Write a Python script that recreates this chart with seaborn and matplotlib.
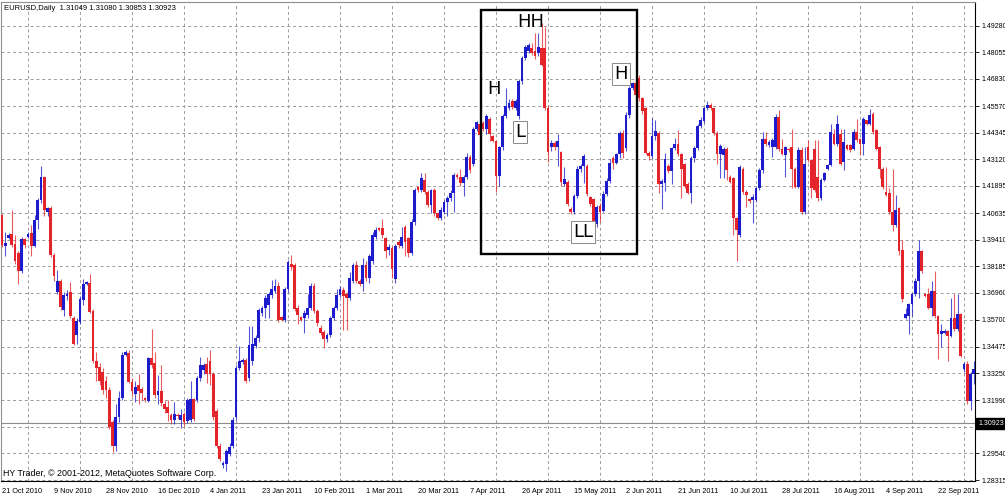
import numpy as np
import pandas as pd
import matplotlib
matplotlib.use("Agg")
import matplotlib.pyplot as plt
import matplotlib.transforms as mtransforms
from matplotlib.patches import Rectangle
from matplotlib import font_manager
import seaborn as sns

# EURUSD daily bars (open / high / low / close)
opens = [
    1.4055, 1.3910, 1.3950, 1.3965, 1.3920, 1.3880, 1.3795, 1.3945, 1.3955, 1.3970,
    1.3910, 1.4030, 1.4125, 1.4230, 1.4070, 1.4085, 1.3870, 1.3700, 1.3750, 1.3615,
    1.3680, 1.3700, 1.3580, 1.3500, 1.3560, 1.3660, 1.3735, 1.3740, 1.3610, 1.3380,
    1.3355, 1.3330, 1.3290, 1.3245, 1.3100, 1.2990, 1.3120, 1.3210, 1.3410, 1.3417,
    1.3285, 1.3230, 1.3270, 1.3250, 1.3210, 1.3195, 1.3395, 1.3370, 1.3225, 1.3240,
    1.3180, 1.3170, 1.3130, 1.3110, 1.3130, 1.3110, 1.3135, 1.3105, 1.3110, 1.3205,
    1.3200, 1.3300, 1.3340, 1.3365, 1.3380, 1.3320, 1.3150, 1.2990, 1.2900, 1.2905,
    1.2950, 1.2990, 1.3120, 1.3350, 1.3375, 1.3385, 1.3300, 1.3380, 1.3450, 1.3485,
    1.3600, 1.3625, 1.3640, 1.3685, 1.3705, 1.3725, 1.3585, 1.3570, 1.3715, 1.3830,
    1.3825, 1.3625, 1.3585, 1.3580, 1.3595, 1.3625, 1.3725, 1.3610, 1.3535, 1.3515,
    1.3480, 1.3500, 1.3580, 1.3625, 1.3685, 1.3710, 1.3690, 1.3670, 1.3750, 1.3825,
    1.3750, 1.3735, 1.3825, 1.3764, 1.3841, 1.3955, 1.3994, 1.3994, 1.3948, 1.3895,
    1.3902, 1.3757, 1.3932, 1.3910, 1.4001, 1.3948, 1.3879, 1.4024, 1.4185, 1.4170,
    1.4216, 1.4162, 1.4101, 1.4170, 1.4063, 1.4040, 1.4070, 1.4116, 1.4131, 1.4154,
    1.4238, 1.4231, 1.4200, 1.4231, 1.4323, 1.4292, 1.4453, 1.4476, 1.4480, 1.4450,
    1.4496, 1.4419, 1.4396, 1.4236, 1.4366, 1.4511, 1.4549, 1.4580, 1.4549, 1.4511,
    1.4672, 1.4779, 1.4809, 1.4825, 1.4809, 1.4802, 1.4825, 1.4825, 1.4549, 1.4366,
    1.4389, 1.4366, 1.4343, 1.4197, 1.4205, 1.4083, 1.4067, 1.4144, 1.4266, 1.4281,
    1.4281, 1.4136, 1.4128, 1.4014, 1.4097, 1.4074, 1.4151, 1.4212, 1.4319, 1.4296,
    1.4334, 1.4434, 1.4365, 1.4518, 1.4640, 1.4663, 1.4686, 1.4594, 1.4548, 1.4342,
    1.4327, 1.4418, 1.4434, 1.4196, 1.4204, 1.4281, 1.4258, 1.4365, 1.4380, 1.4334,
    1.4288, 1.4196, 1.4158, 1.4319, 1.4365, 1.4464, 1.4487, 1.4548, 1.4564, 1.4548,
    1.4434, 1.4334, 1.4331, 1.4361, 1.4231, 1.4223, 1.4040, 1.3963, 1.4269, 1.4162,
    1.4128, 1.4124, 1.4124, 1.4178, 1.4262, 1.4407, 1.4376, 1.4369, 1.4369, 1.4506,
    1.4361, 1.4331, 1.4361, 1.4369, 1.4269, 1.4185, 1.4353, 1.4070, 1.4369, 1.4308,
    1.4361, 1.4231, 1.4132, 1.4216, 1.4269, 1.4285, 1.4430, 1.4384, 1.4430, 1.4300,
    1.4376, 1.4376, 1.4361, 1.4438, 1.4407, 1.4384, 1.4491, 1.4476, 1.4522, 1.4445,
    1.4369, 1.4269, 1.4162, 1.4155, 1.4070, 1.4009, 1.4086, 1.3894, 1.3581, 1.3588,
    1.3642, 1.3688, 1.3749, 1.3887, 1.3688, 1.3688, 1.3627, 1.3706, 1.3588, 1.3504,
    1.3512, 1.3520, 1.3497, 1.3581, 1.3527, 1.3596, 1.3344, 1.3367, 1.3198, 1.3321,
]
highs = [
    1.4060, 1.3975, 1.3970, 1.4078, 1.3960, 1.3890, 1.3955, 1.3950, 1.3975, 1.4010,
    1.4055, 1.4135, 1.4280, 1.4235, 1.4090, 1.4095, 1.3880, 1.3800, 1.3760, 1.3700,
    1.3710, 1.3745, 1.3590, 1.3580, 1.3680, 1.3760, 1.3750, 1.3780, 1.3620, 1.3420,
    1.3370, 1.3350, 1.3310, 1.3260, 1.3110, 1.3180, 1.3240, 1.3420, 1.3430, 1.3430,
    1.3300, 1.3290, 1.3320, 1.3260, 1.3215, 1.3400, 1.3530, 1.3420, 1.3315, 1.3360,
    1.3195, 1.3200, 1.3140, 1.3190, 1.3140, 1.3160, 1.3145, 1.3210, 1.3290, 1.3210,
    1.3310, 1.3400, 1.3370, 1.3400, 1.3430, 1.3330, 1.3160, 1.3000, 1.2920, 1.2975,
    1.3000, 1.3120, 1.3360, 1.3450, 1.3395, 1.3395, 1.3540, 1.3540, 1.3500, 1.3625,
    1.3635, 1.3685, 1.3700, 1.3755, 1.3760, 1.3745, 1.3590, 1.3720, 1.3845, 1.3870,
    1.3835, 1.3640, 1.3590, 1.3615, 1.3690, 1.3740, 1.3740, 1.3620, 1.3545, 1.3525,
    1.3510, 1.3590, 1.3635, 1.3715, 1.3725, 1.3720, 1.3700, 1.3790, 1.3835, 1.3840,
    1.3760, 1.3855, 1.3840, 1.3875, 1.3975, 1.4000, 1.4000, 1.4035, 1.3955, 1.3920,
    1.3910, 1.3920, 1.3940, 1.4000, 1.4010, 1.3955, 1.4035, 1.4180, 1.4190, 1.4246,
    1.4246, 1.4170, 1.4175, 1.4180, 1.4070, 1.4090, 1.4125, 1.4140, 1.4170, 1.4250,
    1.4250, 1.4269, 1.4240, 1.4340, 1.4330, 1.4460, 1.4490, 1.4480, 1.4490, 1.4520,
    1.4505, 1.4425, 1.4400, 1.4375, 1.4520, 1.4641, 1.4588, 1.4590, 1.4590, 1.4680,
    1.4790, 1.4840, 1.4850, 1.4850, 1.4894, 1.4894, 1.4939, 1.4924, 1.4560, 1.4400,
    1.4395, 1.4427, 1.4350, 1.4274, 1.4215, 1.4090, 1.4150, 1.4280, 1.4290, 1.4335,
    1.4290, 1.4140, 1.4135, 1.4100, 1.4110, 1.4166, 1.4227, 1.4311, 1.4327, 1.4342,
    1.4441, 1.4449, 1.4530, 1.4650, 1.4670, 1.4670, 1.4700, 1.4600, 1.4555, 1.4350,
    1.4502, 1.4495, 1.4440, 1.4220, 1.4342, 1.4290, 1.4370, 1.4411, 1.4449, 1.4340,
    1.4295, 1.4205, 1.4325, 1.4375, 1.4475, 1.4505, 1.4555, 1.4580, 1.4570, 1.4555,
    1.4440, 1.4380, 1.4370, 1.4370, 1.4240, 1.4230, 1.4045, 1.4285, 1.4275, 1.4170,
    1.4135, 1.4150, 1.4185, 1.4270, 1.4438, 1.4438, 1.4400, 1.4410, 1.4522, 1.4537,
    1.4407, 1.4375, 1.4365, 1.4453, 1.4275, 1.4369, 1.4369, 1.4369, 1.4399, 1.4315,
    1.4399, 1.4399, 1.4225, 1.4255, 1.4292, 1.4476, 1.4453, 1.4514, 1.4453, 1.4453,
    1.4380, 1.4384, 1.4453, 1.4499, 1.4410, 1.4505, 1.4495, 1.4545, 1.4530, 1.4450,
    1.4375, 1.4277, 1.4277, 1.4178, 1.4269, 1.4147, 1.4090, 1.3940, 1.3627, 1.3650,
    1.3695, 1.3764, 1.3940, 1.3895, 1.3695, 1.3719, 1.3749, 1.3795, 1.3595, 1.3550,
    1.3530, 1.3525, 1.3673, 1.3688, 1.3688, 1.3600, 1.3375, 1.3382, 1.3330, 1.3382,
]
lows = [
    1.3905, 1.3865, 1.3945, 1.3905, 1.3830, 1.3735, 1.3785, 1.3900, 1.3950, 1.3865,
    1.3905, 1.3990, 1.4110, 1.4050, 1.4050, 1.3860, 1.3750, 1.3690, 1.3615, 1.3590,
    1.3660, 1.3580, 1.3455, 1.3460, 1.3550, 1.3640, 1.3730, 1.3600, 1.3370, 1.3290,
    1.3270, 1.3230, 1.3210, 1.3065, 1.2960, 1.2965, 1.3100, 1.3200, 1.3405, 1.3280,
    1.3220, 1.3190, 1.3180, 1.3200, 1.3190, 1.3190, 1.3350, 1.3210, 1.3180, 1.3175,
    1.3140, 1.3105, 1.3090, 1.3090, 1.3115, 1.3070, 1.3080, 1.3095, 1.3100, 1.3105,
    1.3190, 1.3290, 1.3320, 1.3280, 1.3270, 1.3110, 1.2980, 1.2920, 1.2885, 1.2875,
    1.2940, 1.2980, 1.3110, 1.3340, 1.3365, 1.3280, 1.3290, 1.3360, 1.3440, 1.3470,
    1.3590, 1.3580, 1.3580, 1.3670, 1.3695, 1.3560, 1.3565, 1.3560, 1.3700, 1.3800,
    1.3610, 1.3550, 1.3565, 1.3510, 1.3580, 1.3615, 1.3600, 1.3540, 1.3500, 1.3440,
    1.3470, 1.3490, 1.3570, 1.3615, 1.3675, 1.3525, 1.3525, 1.3660, 1.3740, 1.3740,
    1.3725, 1.3705, 1.3750, 1.3740, 1.3830, 1.3945, 1.3980, 1.3950, 1.3856, 1.3870,
    1.3764, 1.3740, 1.3900, 1.3900, 1.3864, 1.3860, 1.3870, 1.4010, 1.4160, 1.4160,
    1.4150, 1.4090, 1.4063, 1.4050, 1.4030, 1.4030, 1.4060, 1.4050, 1.4120, 1.4070,
    1.4220, 1.4190, 1.4140, 1.4220, 1.4250, 1.4280, 1.4440, 1.4415, 1.4440, 1.4430,
    1.4396, 1.4390, 1.4159, 1.4190, 1.4355, 1.4500, 1.4540, 1.4545, 1.4540, 1.4496,
    1.4660, 1.4770, 1.4800, 1.4795, 1.4775, 1.4790, 1.4740, 1.4540, 1.4300, 1.4350,
    1.4355, 1.4281, 1.4190, 1.4190, 1.4095, 1.4060, 1.4060, 1.4135, 1.4255, 1.4200,
    1.4140, 1.4095, 1.4000, 1.4000, 1.4020, 1.4066, 1.4140, 1.4200, 1.4265, 1.4288,
    1.4319, 1.4319, 1.4350, 1.4500, 1.4630, 1.4600, 1.4580, 1.4520, 1.4334, 1.4310,
    1.4319, 1.4400, 1.4158, 1.4082, 1.4166, 1.4250, 1.4196, 1.4355, 1.4325, 1.4135,
    1.4180, 1.4150, 1.4112, 1.4300, 1.4355, 1.4455, 1.4480, 1.4540, 1.4540, 1.4425,
    1.4288, 1.4227, 1.4223, 1.4216, 1.4200, 1.3963, 1.3841, 1.3955, 1.4150, 1.4093,
    1.4110, 1.4017, 1.4115, 1.4170, 1.4250, 1.4375, 1.4370, 1.4323, 1.4360, 1.4350,
    1.4330, 1.4231, 1.4345, 1.4180, 1.4178, 1.4180, 1.4060, 1.4060, 1.4300, 1.4132,
    1.4160, 1.4120, 1.4125, 1.4210, 1.4260, 1.4280, 1.4376, 1.4375, 1.4285, 1.4262,
    1.4355, 1.4345, 1.4353, 1.4390, 1.4331, 1.4331, 1.4470, 1.4470, 1.4430, 1.4355,
    1.4223, 1.4175, 1.4140, 1.4060, 1.3979, 1.4000, 1.3870, 1.3655, 1.3575, 1.3504,
    1.3588, 1.3680, 1.3673, 1.3785, 1.3675, 1.3620, 1.3588, 1.3580, 1.3390, 1.3443,
    1.3505, 1.3382, 1.3490, 1.3520, 1.3520, 1.3400, 1.3330, 1.3183, 1.3153, 1.3275,
]
closes = [
    1.3915, 1.3925, 1.3960, 1.3917, 1.3840, 1.3795, 1.3945, 1.3915, 1.3965, 1.3910,
    1.4030, 1.4125, 1.4230, 1.4078, 1.4085, 1.3870, 1.3772, 1.3750, 1.3630, 1.3685,
    1.3690, 1.3590, 1.3460, 1.3565, 1.3665, 1.3735, 1.3745, 1.3605, 1.3380, 1.3350,
    1.3290, 1.3245, 1.3245, 1.3075, 1.2990, 1.3120, 1.3210, 1.3410, 1.3420, 1.3285,
    1.3240, 1.3260, 1.3240, 1.3235, 1.3200, 1.3395, 1.3360, 1.3225, 1.3240, 1.3185,
    1.3160, 1.3140, 1.3110, 1.3135, 1.3125, 1.3130, 1.3100, 1.3200, 1.3205, 1.3115,
    1.3300, 1.3360, 1.3360, 1.3320, 1.3320, 1.3120, 1.2990, 1.2930, 1.2910, 1.2965,
    1.2985, 1.3110, 1.3350, 1.3380, 1.3385, 1.3290, 1.3455, 1.3460, 1.3485, 1.3615,
    1.3625, 1.3670, 1.3690, 1.3715, 1.3725, 1.3570, 1.3570, 1.3715, 1.3838, 1.3815,
    1.3620, 1.3595, 1.3570, 1.3600, 1.3625, 1.3725, 1.3610, 1.3555, 1.3510, 1.3480,
    1.3500, 1.3580, 1.3625, 1.3685, 1.3715, 1.3680, 1.3670, 1.3765, 1.3825, 1.3750,
    1.3735, 1.3825, 1.3764, 1.3864, 1.3963, 1.3986, 1.3985, 1.3960, 1.3887, 1.3905,
    1.3803, 1.3910, 1.3915, 1.3955, 1.3932, 1.3879, 1.4024, 1.4170, 1.4170, 1.4223,
    1.4162, 1.4101, 1.4170, 1.4063, 1.4040, 1.4078, 1.4116, 1.4131, 1.4154, 1.4238,
    1.4231, 1.4200, 1.4231, 1.4323, 1.4261, 1.4453, 1.4483, 1.4422, 1.4450, 1.4511,
    1.4427, 1.4396, 1.4236, 1.4366, 1.4511, 1.4557, 1.4572, 1.4555, 1.4580, 1.4672,
    1.4779, 1.4832, 1.4840, 1.4802, 1.4787, 1.4832, 1.4748, 1.4549, 1.4343, 1.4389,
    1.4366, 1.4396, 1.4205, 1.4220, 1.4105, 1.4067, 1.4144, 1.4266, 1.4281, 1.4327,
    1.4151, 1.4105, 1.4014, 1.4090, 1.4066, 1.4151, 1.4212, 1.4296, 1.4296, 1.4334,
    1.4434, 1.4342, 1.4518, 1.4640, 1.4663, 1.4610, 1.4594, 1.4533, 1.4342, 1.4327,
    1.4418, 1.4441, 1.4196, 1.4212, 1.4311, 1.4258, 1.4365, 1.4380, 1.4334, 1.4265,
    1.4189, 1.4158, 1.4319, 1.4365, 1.4464, 1.4495, 1.4548, 1.4564, 1.4548, 1.4434,
    1.4334, 1.4372, 1.4361, 1.4262, 1.4208, 1.4040, 1.3986, 1.4277, 1.4162, 1.4147,
    1.4120, 1.4139, 1.4178, 1.4262, 1.4407, 1.4384, 1.4392, 1.4399, 1.4506, 1.4361,
    1.4338, 1.4369, 1.4353, 1.4269, 1.4185, 1.4353, 1.4070, 1.4292, 1.4308, 1.4178,
    1.4170, 1.4132, 1.4216, 1.4246, 1.4285, 1.4438, 1.4384, 1.4476, 1.4292, 1.4392,
    1.4361, 1.4353, 1.4438, 1.4399, 1.4384, 1.4499, 1.4476, 1.4514, 1.4438, 1.4361,
    1.4269, 1.4185, 1.4147, 1.4070, 1.4009, 1.4078, 1.3887, 1.3665, 1.3596, 1.3642,
    1.3688, 1.3749, 1.3887, 1.3795, 1.3680, 1.3627, 1.3706, 1.3588, 1.3504, 1.3520,
    1.3520, 1.3497, 1.3581, 1.3527, 1.3596, 1.3405, 1.3367, 1.3198, 1.3321, 1.3344,
]

date_labels = ["21 Oct 2010", "9 Nov 2010", "28 Nov 2010", "16 Dec 2010", "4 Jan 2011",
               "23 Jan 2011", "10 Feb 2011", "1 Mar 2011", "20 Mar 2011", "7 Apr 2011",
               "26 Apr 2011", "15 May 2011", "2 Jun 2011", "21 Jun 2011", "10 Jul 2011",
               "28 Jul 2011", "16 Aug 2011", "4 Sep 2011", "22 Sep 2011"]
price_ticks = [1.49280, 1.48055, 1.46830, 1.45570, 1.44345, 1.43120, 1.41895, 1.40635,
               1.39410, 1.38185, 1.36960, 1.35700, 1.34475, 1.33250, 1.31990, 1.30765,
               1.29540, 1.28315]
last_price = 1.30923
header = "EURUSD,Daily  1.31049 1.31080 1.30853 1.30923"
footer = "HY Trader, \u00a9 2001-2012, MetaQuotes Software Corp."

sns.set_theme(style="white")
avail = {f.name for f in font_manager.fontManager.ttflist}
small_font = next((f for f in ["Liberation Sans", "DejaVu Sans"] if f in avail), "DejaVu Sans")
plt.rcParams["font.family"] = [small_font, "DejaVu Sans"]

df = pd.DataFrame({"open": opens, "high": highs, "low": lows, "close": closes})
df["bar"] = np.arange(len(df))
df["up"] = df["close"] >= df["open"]
df["bottom"] = df[["open", "close"]].min(axis=1)
df["body"] = (df["close"] - df["open"]).abs().clip(lower=0.00012)

BLUE, RED = "#1c1ccc", "#e3242b"
colors = np.where(df["up"], BLUE, RED)

fig = plt.figure(figsize=(10.05, 4.97), dpi=100)
ax = fig.add_axes([1 / 1005, 16 / 497, 974 / 1005, 479 / 497])

# grid: vertical every 8 bars, horizontal at the price ticks
ax.set_xticks(np.arange(0, len(df), 8), minor=True)
ax.grid(which="minor", axis="x", color="#9a9a9a", lw=0.7, ls=(0, (3, 3)))
ax.grid(which="major", axis="y", color="#9a9a9a", lw=0.7, ls=(0, (3, 3)))
ax.grid(which="major", axis="x", visible=False)
ax.set_axisbelow(True)

# candles
ax.vlines(df["bar"], df["low"], df["high"], colors=colors, lw=0.8, alpha=0.75, zorder=2)
ax.bar(df["bar"], df["body"], bottom=df["bottom"], width=0.8, color=colors,
       linewidth=0, zorder=3)

# current price line
ax.axhline(last_price, color="#8c8c8c", lw=0.8, zorder=1)

ax.set_xlim(-0.31, 299.38)
ax.set_ylim(1.28269, 1.50374)

for side in ["top", "left"]:
    ax.spines[side].set_color("#909090")
    ax.spines[side].set_linewidth(0.8)
for side in ["right", "bottom"]:
    ax.spines[side].set_color("black")
    ax.spines[side].set_linewidth(0.8)

ax.yaxis.tick_right()
ax.set_yticks(price_ticks)
# the 1.30765 label sits under the last-price tag
ax.set_yticklabels(["" if abs(p - 1.30765) < 1e-6 else f"{p:.5f}" for p in price_ticks])
ax.set_xticks(np.arange(0, 16 * len(date_labels), 16))
ax.set_xticklabels(date_labels, ha="left")
ax.tick_params(axis="y", which="major", direction="out", length=3, width=0.6,
               pad=1.3, labelsize=5.0, colors="black")
ax.tick_params(axis="x", which="major", direction="out", length=3, width=0.6,
               pad=2.0, labelsize=5.3, colors="black")
ax.tick_params(axis="x", which="minor", length=0)
ax.set_xlabel("")
ax.set_ylabel("")

# last price tag
trans = mtransforms.blended_transform_factory(ax.transAxes, ax.transData)
ax.text(1.0035, last_price, f"{last_price:.5f}", transform=trans, ha="left", va="center",
        fontsize=5.0, color="white", zorder=10, clip_on=False,
        bbox=dict(boxstyle="square,pad=0.35", fc="black", ec="black"))

ax.text(0.003, 0.993, header, transform=ax.transAxes, ha="left", va="top",
        fontsize=5.5, color="black")
ax.text(0.002, 0.006, footer, transform=ax.transAxes, ha="left", va="bottom",
        fontsize=6.4, color="black")

# pattern markup
ax.add_patch(Rectangle((147.4, 1.3874), 48.0, 0.1126, fill=False, ec="black",
                       lw=1.7, zorder=6))
mark_kw = dict(fontsize=13, ha="center", va="center", color="black", zorder=7,
               family="DejaVu Sans")
box_kw = dict(boxstyle="square,pad=0.12", fc="white", ec="#8a8a8a", lw=0.7)
ax.text(162.8, 1.4943, "HH", **mark_kw)
ax.text(151.4, 1.4636, "H", **mark_kw)
ax.text(159.4, 1.4437, "L", bbox=box_kw, **mark_kw)
ax.text(178.8, 1.3976, "LL", bbox=box_kw, **mark_kw)
ax.text(190.5, 1.4705, "H", bbox=box_kw, **mark_kw)

fig.savefig("out.png", dpi=100, facecolor="white")
